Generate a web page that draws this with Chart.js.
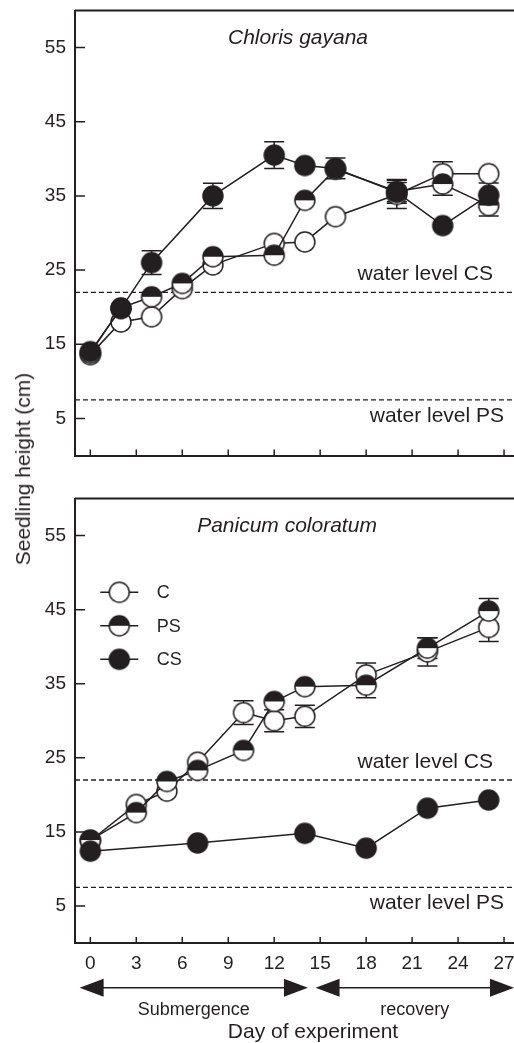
<!DOCTYPE html>
<html>
<head>
<meta charset="utf-8">
<title>Seedling height</title>
<script src="https://cdn.jsdelivr.net/npm/chart.js@4"></script>
<style>
body{margin:0;background:#fff;width:514px;height:1043px;position:relative;overflow:hidden;font-family:"Liberation Sans",Arial,sans-serif;color:#231f20}
#cTop{position:absolute;left:0;top:0}
#cBot{position:absolute;left:0;top:480px}
#ytitle{position:absolute;left:23px;top:469px;transform:translate(-50%,-50%) rotate(-90deg);font-size:21px;white-space:nowrap}
</style>
</head>
<body>
<canvas id="cTop" width="514" height="470"></canvas>
<canvas id="cBot" width="514" height="563"></canvas>
<div id="ytitle">Seedling height (cm)</div>
<script>
const INK = '#231f20';

const xTicks = [0, 3, 6, 9, 12, 15, 18, 21, 24, 27];
const yTicks = [5, 15, 25, 35, 45, 55];
const waterLevelCS = 22;
const waterLevelPS = 7.5;

// Chloris gayana (top panel)
const chlorisDays = [0, 2, 4, 6, 8, 12, 14, 16, 20, 23, 26];
const chlorisC = [13.6, 18.0, 18.7, 22.5, 25.7, 28.6, 28.8, 32.2, 35.2, 38.0, 38.0];
const chlorisCErr = [0, 0, 0, 0, 0, 0, 0, 0, 1.9, 1.6, 0];
const chlorisPS = [13.8, 19.9, 21.4, 23.2, 26.8, 27.0, 34.4, 38.6, 35.6, 36.6, 33.7];
const chlorisPSErr = [0, 0, 0, 0, 0, 0, 0, 0, 1.6, 1.5, 1.4];
const chlorisCSDays = [0, 2, 4, 8, 12, 14, 16, 20, 23, 26];
const chlorisCS = [14.0, 19.8, 26.0, 35.0, 40.5, 39.1, 38.7, 35.5, 31.0, 35.1];
const chlorisCSErr = [0, 0, 1.6, 1.7, 1.8, 0, 1.4, 1.3, 0, 1.65];

// Panicum coloratum (bottom panel)
const panicumDays = [0, 3, 5, 7, 10, 12, 14, 18, 22, 26];
const panicumC = [13.8, 18.7, 20.5, 24.4, 31.1, 30.0, 30.6, 36.2, 39.3, 42.6];
const panicumCErr = [0, 0, 0, 0, 1.6, 1.5, 1.5, 1.6, 1.9, 1.9];
const panicumPS = [13.9, 17.6, 21.8, 23.3, 26.0, 32.6, 34.6, 34.8, 39.8, 44.8];
const panicumPSErr = [0, 0, 0, 0, 0, 0, 0, 1.7, 1.4, 1.7];
const panicumCSDays = [0, 7, 14, 18, 22, 26];
const panicumCS = [12.4, 13.5, 14.8, 12.8, 18.2, 19.3];
const panicumCSErr = [0, 0, 0, 0, 0, 0];

const seriesNames = ['C', 'PS', 'CS'];
const phaseNames = ['Submergence', 'recovery'];
const phaseStart = [-0.7, 14.7];
const phaseEnd = [14.2, 27.65];

Chart.defaults.font.family = '"Liberation Sans", Arial, sans-serif';
Chart.defaults.color = INK;

function marker(kind) {
  const c = document.createElement('canvas');
  c.width = c.height = 24;
  const g = c.getContext('2d');
  g.beginPath();
  g.arc(12, 12, 10, 0, 2 * Math.PI);
  g.fillStyle = kind === 'CS' ? INK : '#fff';
  g.fill();
  if (kind === 'PS') {
    g.beginPath();
    g.arc(12, 12, 10, Math.PI, 2 * Math.PI);
    g.closePath();
    g.fillStyle = INK;
    g.fill();
  }
  g.beginPath();
  g.arc(12, 12, 10, 0, 2 * Math.PI);
  g.lineWidth = 1.5;
  g.strokeStyle = INK;
  g.stroke();
  return c;
}
const markers = { C: marker('C'), PS: marker('PS'), CS: marker('CS') };

function series(kind, days, vals, errs, order) {
  return {
    label: kind,
    data: days.map((d, i) => ({ x: d, y: vals[i] })),
    errors: errs,
    order: order,
    borderColor: INK,
    borderWidth: 1.5,
    pointStyle: markers[kind],
    pointRadius: 10,
    pointHoverRadius: 10,
    tension: 0,
    fill: false
  };
}

const panelDeco = {
  id: 'panelDeco',
  beforeDatasetsDraw(chart, args, opts) {
    const { ctx, chartArea: a, scales: { x, y } } = chart;
    ctx.save();
    ctx.strokeStyle = INK;
    // top frame line
    ctx.lineWidth = 2;
    ctx.beginPath();
    ctx.moveTo(a.left, a.top);
    ctx.lineTo(a.right, a.top);
    ctx.stroke();
    // inward ticks
    ctx.lineWidth = 1.5;
    ctx.beginPath();
    xTicks.forEach(v => {
      const px = x.getPixelForValue(v);
      ctx.moveTo(px, a.bottom);
      ctx.lineTo(px, a.bottom - 6);
    });
    yTicks.forEach(v => {
      const py = y.getPixelForValue(v);
      ctx.moveTo(a.left, py);
      ctx.lineTo(a.left + 10, py);
    });
    ctx.stroke();
    // water levels
    ctx.lineWidth = 1.3;
    ctx.setLineDash([5, 3]);
    [waterLevelCS, waterLevelPS].forEach(v => {
      const py = y.getPixelForValue(v);
      ctx.beginPath();
      ctx.moveTo(a.left, py);
      ctx.lineTo(a.right, py);
      ctx.stroke();
    });
    ctx.setLineDash([]);
    ctx.fillStyle = INK;
    ctx.font = '21px "Liberation Sans", Arial, sans-serif';
    ctx.textAlign = 'right';
    ctx.textBaseline = 'middle';
    ctx.fillText('water level CS', a.right - 21, y.getPixelForValue(waterLevelCS) - 18);
    ctx.fillText('water level PS', a.right - 10, y.getPixelForValue(waterLevelPS) + 16);
    // species name
    ctx.font = 'italic 21px "Liberation Sans", Arial, sans-serif';
    ctx.textAlign = 'center';
    ctx.fillText(opts.species, opts.speciesX, a.top + 27.5);
    // error bars
    ctx.lineWidth = 1.5;
    chart.data.datasets.forEach((ds, di) => {
      const meta = chart.getDatasetMeta(di);
      meta.data.forEach((pt, i) => {
        const e = ds.errors[i];
        if (!e) return;
        const v = ds.data[i].y;
        const y1 = y.getPixelForValue(v + e);
        const y2 = y.getPixelForValue(v - e);
        ctx.beginPath();
        ctx.moveTo(pt.x, y1); ctx.lineTo(pt.x, y2);
        ctx.moveTo(pt.x - 10, y1); ctx.lineTo(pt.x + 10, y1);
        ctx.moveTo(pt.x - 10, y2); ctx.lineTo(pt.x + 10, y2);
        ctx.stroke();
      });
    });
    ctx.restore();
  },
  afterDraw(chart, args, opts) {
    if (!opts.legend) return;
    const { ctx, chartArea: a, scales: { x } } = chart;
    ctx.save();
    ctx.strokeStyle = INK;
    ctx.fillStyle = INK;
    ctx.lineWidth = 1.5;
    // legend
    ctx.font = '18px "Liberation Sans", Arial, sans-serif';
    ctx.textAlign = 'left';
    ctx.textBaseline = 'middle';
    seriesNames.forEach((name, i) => {
      const cx = a.left + 44.3;
      const cy = a.top + 93.8 + 33.5 * i;
      ctx.beginPath();
      ctx.moveTo(cx - 19, cy);
      ctx.lineTo(cx + 19, cy);
      ctx.stroke();
      ctx.drawImage(markers[name], cx - 12, cy - 12);
      ctx.fillText(name, a.left + 81.7, cy + 1);
    });
    // phase arrows
    const ay = a.bottom + 44.7;
    const head = (tip, dir) => {
      ctx.beginPath();
      ctx.moveTo(tip, ay);
      ctx.lineTo(tip + dir * 24, ay - 9);
      ctx.lineTo(tip + dir * 24, ay + 9);
      ctx.closePath();
      ctx.fill();
    };
    ctx.textAlign = 'center';
    phaseNames.forEach((name, i) => {
      const x1 = x.getPixelForValue(phaseStart[i]);
      const x2 = Math.min(x.getPixelForValue(phaseEnd[i]), chart.width);
      ctx.beginPath();
      ctx.moveTo(x1 + 20, ay);
      ctx.lineTo(x2 - 20, ay);
      ctx.stroke();
      head(x1, 1);
      head(x2, -1);
      ctx.font = '18px "Liberation Sans", Arial, sans-serif';
      ctx.fillText(name, (x1 + x2) / 2, a.bottom + 67);
    });
    ctx.font = '21px "Liberation Sans", Arial, sans-serif';
    ctx.fillText('Day of experiment', a.left + 238, a.bottom + 89);
    ctx.restore();
  }
};

function options(showX, species, speciesX, legend, padTop, xHeight) {
  return {
    responsive: false,
    animation: false,
    layout: { autoPadding: false, padding: { top: padTop, right: 0, bottom: 0, left: 0 } },
    plugins: {
      legend: { display: false },
      tooltip: { enabled: false },
      panelDeco: { species: species, speciesX: speciesX, legend: legend }
    },
    scales: {
      x: {
        type: 'linear',
        min: -1,
        max: 27.65,
        afterBuildTicks: s => { s.ticks = xTicks.map(v => ({ value: v })); },
        afterFit: s => { s.height = xHeight; s.paddingLeft = 0; s.paddingRight = 0; },
        grid: { display: false, drawTicks: false },
        border: { display: true, color: INK, width: 2 },
        ticks: { display: showX, padding: 9, color: INK, font: { size: 19 }, maxRotation: 0, autoSkip: false }
      },
      y: {
        min: 0,
        max: 60,
        afterBuildTicks: s => { s.ticks = yTicks.map(v => ({ value: v })); },
        afterFit: s => { s.width = 75; s.paddingTop = 0; s.paddingBottom = 0; },
        grid: { display: false, drawTicks: false },
        border: { display: true, color: INK, width: 2 },
        ticks: { padding: 9, color: INK, font: { size: 19 } }
      }
    }
  };
}

new Chart(document.getElementById('cTop'), {
  type: 'line',
  data: {
    datasets: [
      series('C', chlorisDays, chlorisC, chlorisCErr, 3),
      series('PS', chlorisDays, chlorisPS, chlorisPSErr, 2),
      series('CS', chlorisCSDays, chlorisCS, chlorisCSErr, 1)
    ]
  },
  options: options(false, 'Chloris gayana', 298, false, 10.5, 14.5),
  plugins: [panelDeco]
});

new Chart(document.getElementById('cBot'), {
  type: 'line',
  data: {
    datasets: [
      series('C', panicumDays, panicumC, panicumCErr, 3),
      series('PS', panicumDays, panicumPS, panicumPSErr, 2),
      series('CS', panicumCSDays, panicumCS, panicumCSErr, 1)
    ]
  },
  options: options(true, 'Panicum coloratum', 287, true, 18.5, 100),
  plugins: [panelDeco]
});
</script>
</body>
</html>
